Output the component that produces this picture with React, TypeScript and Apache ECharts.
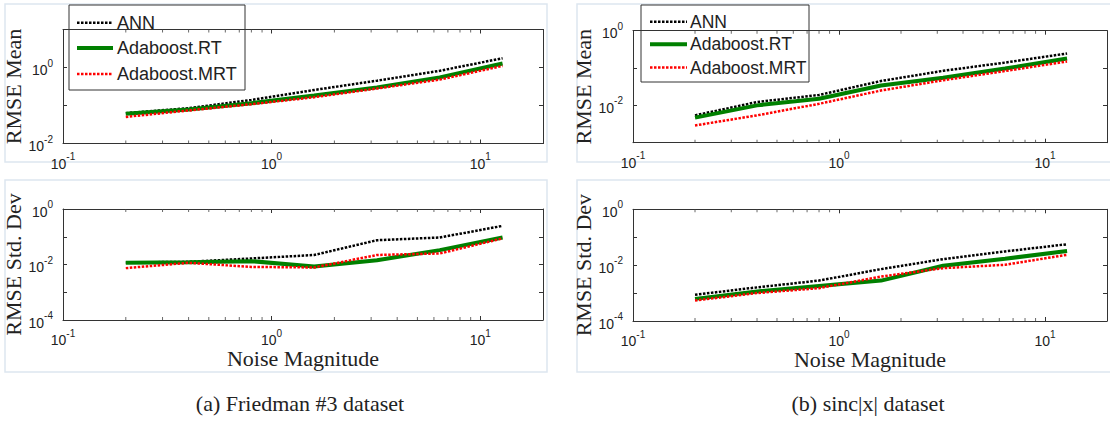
import React, { useEffect, useRef } from 'react';
import * as echarts from 'echarts';

// ---------------- data ----------------
const noiseMagnitude = [0.2, 0.4, 0.8, 1.6, 3.2, 6.4, 12.8];
const seriesNames = ['ANN', 'Adaboost.RT', 'Adaboost.MRT'];

// (a) Friedman #3
const friedmanMeanANN = [0.063, 0.085, 0.14, 0.256, 0.45, 0.82, 1.75];
const friedmanMeanRT = [0.061, 0.079, 0.115, 0.183, 0.30, 0.55, 1.27];
const friedmanMeanMRT = [0.050, 0.074, 0.108, 0.165, 0.28, 0.48, 1.10];
const friedmanStdANN = [0.0118, 0.0125, 0.0165, 0.022, 0.075, 0.094, 0.246];
const friedmanStdRT = [0.0115, 0.012, 0.0132, 0.0085, 0.0143, 0.033, 0.094];
const friedmanStdMRT = [0.0074, 0.0115, 0.0082, 0.0078, 0.022, 0.025, 0.087];

// (b) sinc|x|
const sincMeanANN = [0.0054, 0.0123, 0.019, 0.045, 0.084, 0.14, 0.245];
const sincMeanRT = [0.0047, 0.010, 0.015, 0.034, 0.055, 0.097, 0.18];
const sincMeanMRT = [0.0029, 0.0054, 0.011, 0.025, 0.047, 0.083, 0.15];
const sincStdANN = [0.00087, 0.0016, 0.0028, 0.0072, 0.0164, 0.031, 0.056];
const sincStdRT = [0.00062, 0.00114, 0.0018, 0.0028, 0.0095, 0.017, 0.032];
const sincStdMRT = [0.00054, 0.001, 0.0015, 0.0039, 0.0078, 0.0103, 0.0235];

// axis ranges / tick labels
const xRange = [0.1, 20];
const xTickExponents = [-1, 0, 1];
const xMinorTicks = [0.2, 0.3, 0.4, 0.5, 0.6, 0.7, 0.8, 0.9, 2, 3, 4, 5, 6, 7, 8, 9];
const meanFriedmanRange = [0.01, 10];
const meanSincRange = [0.001, 1];
const stdRange = [0.0001, 1];
const meanTickExponents = [-2, 0];
const stdTickExponents = [-4, -2, 0];

const captions = ['(a) Friedman #3 dataset', '(b) sinc|x| dataset'];
const yNames = ['RMSE Mean', 'RMSE Std. Dev'];
const xName = 'Noise Magnitude';

// ---------------- styles ----------------
const SANS = "'Liberation Sans', Arial, sans-serif";
const SERIF = "'Liberation Serif', 'Times New Roman', serif";
const INK = '#222';

const lineStyles = [
  { color: '#000000', width: 2.5, type: [2.5, 1.5] },
  { color: '#008000', width: 4, type: 'solid' },
  { color: '#ff0000', width: 2.5, type: [2.5, 1.5] },
];

const tickRich = {
  a: { fontSize: 14, lineHeight: 19, verticalAlign: 'bottom', fontFamily: SANS, color: INK },
  b: { fontSize: 10, lineHeight: 6, verticalAlign: 'top', fontFamily: SANS, color: INK },
};

function powFormatter(shown: number[]) {
  return (v: number) => {
    const l = Math.log10(v);
    const e = Math.round(l);
    if (Math.abs(l - e) > 1e-6 || shown.indexOf(e) < 0) return '';
    return `{a|10}{b|${e}}`;
  };
}

const panels = [
  {
    box: { left: 63, top: 29.5, width: 480, height: 114 },
    yRange: meanFriedmanRange, yTicks: meanTickExponents, yName: yNames[0], yGap: 31, xName: '',
    values: [friedmanMeanANN, friedmanMeanRT, friedmanMeanMRT],
  },
  {
    box: { left: 63, top: 209, width: 480, height: 111 },
    yRange: stdRange, yTicks: stdTickExponents, yName: yNames[1], yGap: 31, xName,
    values: [friedmanStdANN, friedmanStdRT, friedmanStdMRT],
  },
  {
    box: { left: 633, top: 30.7, width: 480, height: 112 },
    yRange: meanSincRange, yTicks: meanTickExponents, yName: yNames[0], yGap: 37, xName: '',
    values: [sincMeanANN, sincMeanRT, sincMeanMRT],
  },
  {
    box: { left: 633, top: 209.3, width: 480, height: 111.7 },
    yRange: stdRange, yTicks: stdTickExponents, yName: yNames[1], yGap: 37, xName,
    values: [sincStdANN, sincStdRT, sincStdMRT],
  },
];

const legends = [
  { x: 69, y: 5, w: 176, h: 85, rows: [22.7, 48, 74], lx: [77, 113], tx: 117, fs: 18 },
  { x: 641, y: 5, w: 168, h: 77, rows: [21.7, 44.3, 67.5], lx: [650, 687], tx: 690, fs: 17.5 },
];

const frames = [
  { x: 5, y: 4, w: 542, h: 158 },
  { x: 5, y: 180, w: 542, h: 192 },
  { x: 577, y: 4, w: 540, h: 158 },
  { x: 577, y: 180, w: 540, h: 192 },
];

function buildOption() {
  const grid: any[] = [];
  const xAxis: any[] = [];
  const yAxis: any[] = [];
  const series: any[] = [];
  const axisLine = { show: true, onZero: false, lineStyle: { color: '#333', width: 1 } };
  const axisTick = { show: true, inside: true, length: 4, lineStyle: { color: '#333', width: 1 } };
  const nameTextStyle = { fontFamily: SERIF, fontSize: 22, color: INK };

  panels.forEach((p, i) => {
    grid.push({ ...p.box, containLabel: false });
    xAxis.push({
      type: 'log', logBase: 10, gridIndex: i, position: 'bottom', min: xRange[0], max: xRange[1],
      axisLine, axisTick, splitLine: { show: false },
      axisLabel: { show: true, margin: 8, formatter: powFormatter(xTickExponents), rich: tickRich },
      name: p.xName, nameLocation: 'middle', nameGap: 26, nameTextStyle,
    });
    xAxis.push({
      type: 'log', logBase: 10, gridIndex: i, position: 'top', min: xRange[0], max: xRange[1],
      axisLine, axisTick, splitLine: { show: false }, axisLabel: { show: false },
    });
    yAxis.push({
      type: 'log', logBase: 10, gridIndex: i, position: 'left', min: p.yRange[0], max: p.yRange[1],
      axisLine, axisTick, splitLine: { show: false },
      axisLabel: { show: true, margin: 10, formatter: powFormatter(p.yTicks), rich: tickRich },
      name: p.yName, nameLocation: 'middle', nameGap: p.yGap, nameRotate: 90, nameTextStyle,
    });
    yAxis.push({
      type: 'log', logBase: 10, gridIndex: i, position: 'right', min: p.yRange[0], max: p.yRange[1],
      axisLine, axisTick, splitLine: { show: false }, axisLabel: { show: false },
    });
    p.values.forEach((vals, k) => {
      series.push({
        type: 'line', name: seriesNames[k], xAxisIndex: 2 * i, yAxisIndex: 2 * i,
        data: noiseMagnitude.map((x, j) => [x, vals[j]]),
        symbol: 'none', showSymbol: false, lineStyle: lineStyles[k], z: 3 + k, silent: true,
      });
    });
    [[p.yRange[0], -1.5], [p.yRange[1], 1.5]].forEach(([yv, off]) => {
      series.push({
        type: 'scatter', xAxisIndex: 2 * i, yAxisIndex: 2 * i,
        data: xMinorTicks.map((v) => [v, yv]),
        symbol: 'rect', symbolSize: [1, 3], symbolOffset: [0, off],
        itemStyle: { color: '#444' }, silent: true, clip: false, z: 1,
      });
    });
  });

  const graphic: any[] = [];
  frames.forEach((f) => {
    graphic.push({
      type: 'rect', shape: { x: f.x, y: f.y, width: f.w, height: f.h },
      style: { fill: 'none', stroke: '#dde6f0', lineWidth: 1.5 }, z: 0, silent: true,
    });
  });
  legends.forEach((L) => {
    const children: any[] = [
      { type: 'rect', shape: { x: L.x, y: L.y, width: L.w, height: L.h },
        style: { fill: '#ffffff', stroke: '#333', lineWidth: 1 } },
    ];
    seriesNames.forEach((nm, k) => {
      const ls = lineStyles[k];
      children.push({
        type: 'line', shape: { x1: L.lx[0], y1: L.rows[k], x2: L.lx[1], y2: L.rows[k] },
        style: { stroke: ls.color, lineWidth: ls.width, lineDash: Array.isArray(ls.type) ? ls.type : null },
      });
      children.push({
        type: 'text', x: L.tx, y: L.rows[k],
        style: { text: nm, fill: INK, font: `${L.fs}px ${SANS}`, align: 'left', verticalAlign: 'middle' },
      });
    });
    graphic.push({ type: 'group', z: 100, silent: true, children });
  });
  [300, 868].forEach((cx, i) => {
    graphic.push({
      type: 'text', x: cx, y: 403, z: 100, silent: true,
      style: { text: captions[i], fill: INK, font: `22px ${SERIF}`, align: 'center', verticalAlign: 'middle' },
    });
  });

  return {
    animation: false,
    backgroundColor: '#ffffff',
    grid, xAxis, yAxis, series, graphic,
  };
}

export default function App() {
  const ref = useRef<HTMLDivElement>(null);
  useEffect(() => {
    if (!ref.current) return;
    const chart = echarts.init(ref.current, null, { renderer: 'svg' });
    chart.setOption(buildOption() as any);
    return () => chart.dispose();
  }, []);
  return (
    <div
      ref={ref}
      style={{ position: 'absolute', left: 0, top: 0, width: 1110, height: 442, background: '#fff', overflow: 'hidden' }}
    />
  );
}
